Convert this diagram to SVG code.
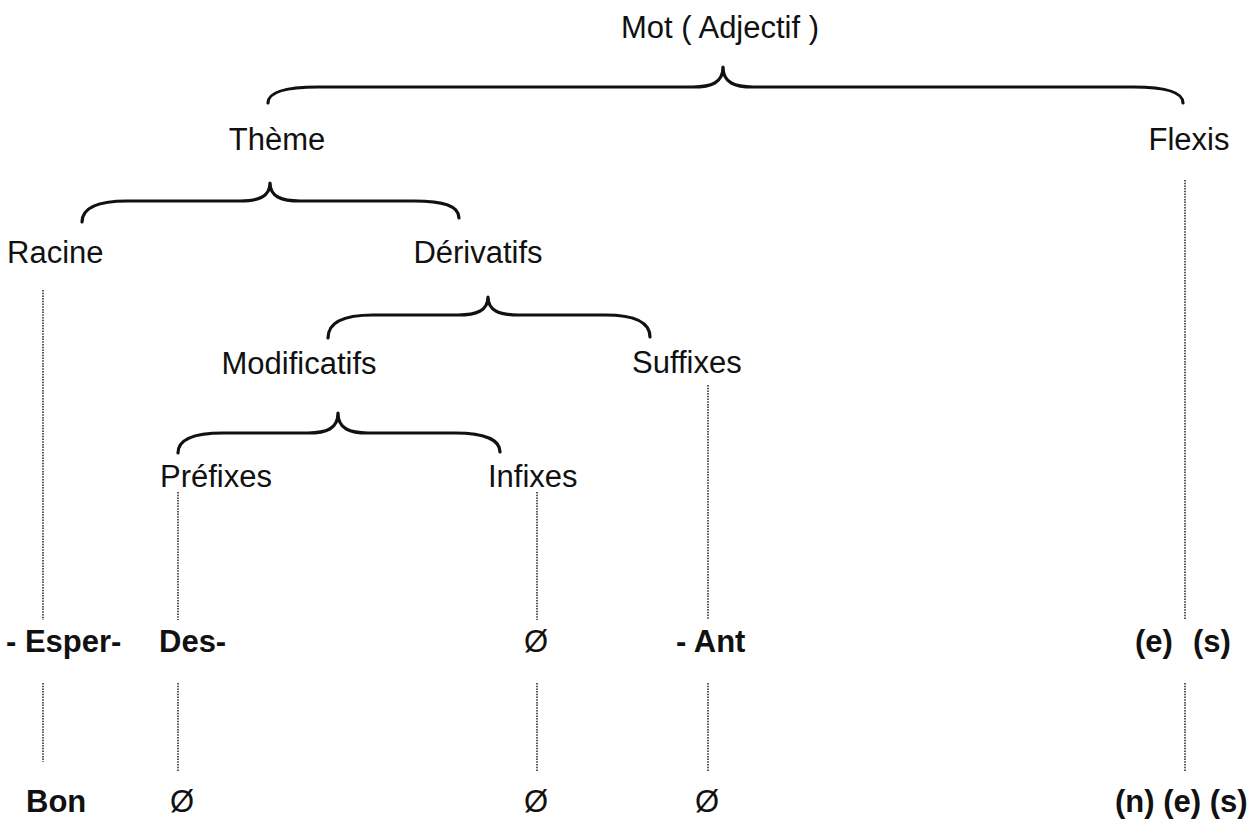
<svg xmlns="http://www.w3.org/2000/svg" width="1259" height="826" viewBox="0 0 1259 826">
<style>
text{font-family:"Liberation Sans",Arial,sans-serif;font-size:31px;fill:#111}
.c{text-anchor:middle}
.b{font-weight:bold}
.z{font-weight:normal;text-anchor:middle}
.brace{fill:none;stroke:#111;stroke-width:3.2;stroke-linecap:round;stroke-linejoin:round}
.dot{stroke:#222;stroke-width:1.5;stroke-dasharray:1.5 1.2;fill:none}
</style>
<rect width="1259" height="826" fill="#fff"/>
<g id="connectors">
<path class="brace" d="M268 103 C268 92 285 87 318 87 L693 87 C711 87 723 83 723 67 C723 83 735 87 753 87 L1133 87 C1166 87 1183 92 1183 103"/>
<path class="brace" d="M82 222 C82 208 97 201 127 201 L240 201 C258 201 270 197 270 183 C270 197 282 201 300 201 L414 201 C444 201 459 206 459 218"/>
<path class="brace" d="M328 338 C328 322 343 315 373 315 L458 315 C476 315 488 311 488 297 C488 311 500 315 518 315 L605 315 C635 315 650 322 650 337"/>
<path class="brace" d="M178 453 C178 440 193 433 223 433 L308 433 C326 433 338 429 338 413 C338 429 350 433 368 433 L455 433 C485 433 500 440 500 452"/>
<line class="dot" x1="43" y1="290" x2="43" y2="620"/>
<line class="dot" x1="43" y1="683" x2="43" y2="762"/>
<line class="dot" x1="178" y1="492" x2="178" y2="620"/>
<line class="dot" x1="178" y1="683" x2="178" y2="772"/>
<line class="dot" x1="537" y1="492" x2="537" y2="620"/>
<line class="dot" x1="537" y1="683" x2="537" y2="772"/>
<line class="dot" x1="708" y1="385" x2="708" y2="620"/>
<line class="dot" x1="708" y1="683" x2="708" y2="772"/>
<line class="dot" x1="1185" y1="180" x2="1185" y2="620"/>
<line class="dot" x1="1185" y1="683" x2="1185" y2="772"/>
</g>
<g id="mot"><text class="c" x="720" y="38">Mot ( Adjectif )</text></g>
<g id="theme"><text class="c" x="277" y="150">Thème</text></g>
<g id="flexis"><text class="c" x="1189" y="150">Flexis</text></g>
<g id="racine"><text x="7" y="263">Racine</text></g>
<g id="derivatifs"><text class="c" x="478" y="263">Dérivatifs</text></g>
<g id="modificatifs"><text class="c" x="299" y="374">Modificatifs</text></g>
<g id="suffixes"><text x="632" y="373">Suffixes</text></g>
<g id="prefixes"><text x="160" y="487">Préfixes</text></g>
<g id="infixes"><text x="488" y="487">Infixes</text></g>
<g id="row1">
<text class="b" x="6" y="652">- Esper-</text>
<text class="b" x="159" y="652">Des-</text>
<text class="z" x="536" y="652">Ø</text>
<text class="b" x="676" y="652">- Ant</text>
<text class="b" x="1135" y="652">(e)</text>
<text class="b" x="1193" y="652">(s)</text>
</g>
<g id="row2">
<text class="b" x="26" y="812">Bon</text>
<text class="z" x="182" y="812">Ø</text>
<text class="z" x="536" y="812">Ø</text>
<text class="z" x="707" y="812">Ø</text>
<text class="b" x="1115" y="812">(n) (e) (s)</text>
</g>
</svg>
